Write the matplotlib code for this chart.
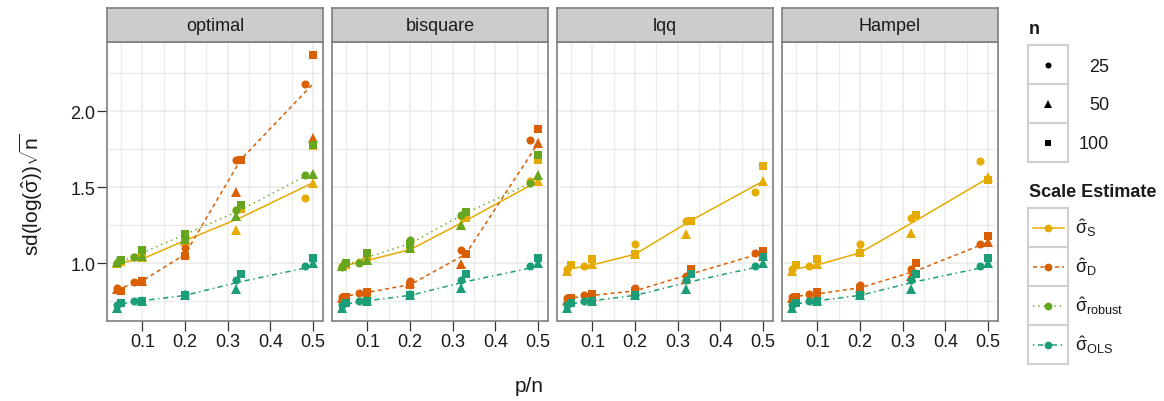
import matplotlib
matplotlib.use("Agg")
import matplotlib.pyplot as plt
from matplotlib.patches import Rectangle
import numpy as np

plt.rcParams["font.family"] = ["Liberation Sans", "DejaVu Sans"]
plt.rcParams["mathtext.fontset"] = "custom"
plt.rcParams["mathtext.rm"] = "Liberation Sans"
plt.rcParams["mathtext.it"] = "Liberation Sans"
plt.rcParams["mathtext.bf"] = "Liberation Sans:bold"

# ---- data -------------------------------------------------------------
panels = ["optimal", "bisquare", "lqq", "Hampel"]
estimators = ["S", "D", "robust", "OLS"]
est_labels = [r"$\hat{\sigma}_{\mathrm{S}}$", r"$\hat{\sigma}_{\mathrm{D}}$",
              r"$\hat{\sigma}_{\mathrm{robust}}$", r"$\hat{\sigma}_{\mathrm{OLS}}$"]
sizes_n = [25, 50, 100]

# p/n design points for each sample size
x_n25 = [0.04, 0.08, 0.2, 0.32, 0.48]
x_n50 = [0.04, 0.10, 0.2, 0.32, 0.50]
x_n100 = [0.05, 0.10, 0.2, 0.33, 0.50]
x_curve = [0.04, 0.10, 0.2, 0.33, 0.50]

# simulated sd(log(sigma_hat)) * sqrt(n): panel -> estimator -> (n25, n50, n100)
sim = {
    "optimal": {
        "S":      ([1.00, 1.04, 1.16, 1.35, 1.43], [1.00, 1.04, 1.15, 1.22, 1.53], [1.01, 1.07, 1.17, 1.36, 1.77]),
        "D":      ([0.84, 0.875, 1.10, 1.68, 2.18], [0.83, 0.885, 1.07, 1.47, 1.82], [0.82, 0.885, 1.05, 1.68, 2.37]),
        "robust": ([1.00, 1.04, 1.17, 1.35, 1.58], [1.01, 1.05, 1.16, 1.31, 1.59], [1.02, 1.09, 1.195, 1.38, 1.78]),
        "OLS":    ([0.73, 0.75, 0.80, 0.89, 0.98], [0.71, 0.75, 0.79, 0.83, 1.005], [0.74, 0.755, 0.79, 0.93, 1.035]),
    },
    "bisquare": {
        "S":      ([0.98, 1.01, 1.14, 1.31, 1.54], [0.98, 1.02, 1.10, 1.25, 1.54], [0.99, 1.04, 1.10, 1.30, 1.68]),
        "D":      ([0.78, 0.805, 0.885, 1.09, 1.81], [0.77, 0.80, 0.87, 0.995, 1.79], [0.78, 0.81, 0.86, 1.06, 1.88]),
        "robust": ([0.975, 1.005, 1.155, 1.32, 1.53], [0.98, 1.02, 1.10, 1.25, 1.58], [1.00, 1.065, 1.13, 1.34, 1.71]),
        "OLS":    ([0.73, 0.75, 0.80, 0.89, 0.98], [0.71, 0.75, 0.79, 0.84, 1.005], [0.74, 0.755, 0.79, 0.93, 1.035]),
    },
    "lqq": {
        "S":      ([0.96, 0.985, 1.125, 1.28, 1.47], [0.95, 0.995, 1.06, 1.19, 1.54], [0.99, 1.03, 1.06, 1.28, 1.64]),
        "D":      ([0.77, 0.79, 0.84, 0.92, 1.065], [0.76, 0.785, 0.82, 0.90, 1.05], [0.77, 0.80, 0.82, 0.965, 1.08]),
        "robust": None,
        "OLS":    ([0.73, 0.75, 0.79, 0.89, 0.98], [0.705, 0.75, 0.79, 0.835, 1.005], [0.74, 0.755, 0.79, 0.93, 1.04]),
    },
    "Hampel": {
        "S":      ([0.96, 0.985, 1.13, 1.295, 1.67], [0.95, 0.995, 1.08, 1.20, 1.565], [0.99, 1.03, 1.07, 1.315, 1.545]),
        "D":      ([0.78, 0.80, 0.855, 0.96, 1.13], [0.77, 0.80, 0.84, 0.92, 1.14], [0.78, 0.81, 0.84, 1.00, 1.18]),
        "robust": None,
        "OLS":    ([0.73, 0.75, 0.80, 0.89, 0.98], [0.71, 0.75, 0.79, 0.835, 1.005], [0.74, 0.755, 0.79, 0.93, 1.035]),
    },
}

# asymptotic curves at x_curve
curve = {
    "optimal":  {"S": [1.00, 1.03, 1.15, 1.30, 1.53], "D": [0.83, 0.885, 1.06, 1.68, 2.18],
                 "robust": [1.00, 1.07, 1.19, 1.35, 1.60], "OLS": [0.73, 0.755, 0.79, 0.88, 0.98]},
    "bisquare": {"S": [0.98, 1.02, 1.09, 1.28, 1.54], "D": [0.78, 0.81, 0.86, 1.06, 1.79],
                 "robust": [0.98, 1.04, 1.13, 1.33, 1.55], "OLS": [0.73, 0.755, 0.79, 0.88, 0.98]},
    "lqq":      {"S": [0.96, 0.99, 1.06, 1.28, 1.54], "D": [0.77, 0.79, 0.82, 0.93, 1.07],
                 "robust": None, "OLS": [0.73, 0.755, 0.79, 0.88, 0.985]},
    "Hampel":   {"S": [0.96, 0.99, 1.07, 1.28, 1.56], "D": [0.78, 0.80, 0.84, 0.95, 1.14],
                 "robust": None, "OLS": [0.73, 0.755, 0.79, 0.88, 0.98]},
}

x_ticks = [0.1, 0.2, 0.3, 0.4, 0.5]
x_minor = [0.05, 0.15, 0.25, 0.35, 0.45]
y_ticks = [1.0, 1.5, 2.0]
y_minor = [0.75, 1.25, 1.75, 2.25]

# ---- styling ----------------------------------------------------------
colors = {"S": "#E6AB02", "D": "#D95F02", "robust": "#66A61E", "OLS": "#1B9E77"}
lstyles = {"S": "-", "D": (0, (2.6, 2.2)), "robust": (0, (0.9, 2.6)),
           "OLS": (0, (0.9, 2.4, 3.4, 2.4))}
markers = {25: ("o", 5.8), 50: ("^", 6.8), 100: ("s", 6.0)}
xs_by_n = {25: x_n25, 50: x_n50, 100: x_n100}

W, H = 1164, 402
fig = plt.figure(figsize=(W / 100, H / 100), dpi=100)


def px_axes(x0, y0, x1, y1):
    return fig.add_axes([x0 / W, 1 - y1 / H, (x1 - x0) / W, (y1 - y0) / H])


# shared limits with 5% padding
all_y = [v for p in panels for e in estimators if sim[p][e] for s in sim[p][e] for v in s]
all_x = x_n25 + x_n50 + x_n100
ylo, yhi = min(all_y), max(all_y)
xlo, xhi = min(all_x), max(all_x)
ypad, xpad = 0.05 * (yhi - ylo), 0.05 * (xhi - xlo)

border = "#7F7F7F"
text_col = "#1a1a1a"
left0, step, pw = 107, 225, 216
top, bottom, strip_top = 43, 322, 9

for i, name in enumerate(panels):
    x0 = left0 + i * step
    ax = px_axes(x0, top, x0 + pw, bottom)
    ax.set_xlim(xlo - xpad, xhi + xpad)
    ax.set_ylim(ylo - ypad, yhi + ypad)
    ax.set_xticks(x_ticks)
    ax.set_xticks(x_minor, minor=True)
    ax.set_yticks(y_ticks)
    ax.set_yticks(y_minor, minor=True)
    ax.set_xticklabels([f"{t:.1f}" for t in x_ticks])
    ax.grid(which="major", color="#EBEBEB", linewidth=1.1)
    ax.grid(which="minor", color="#EBEBEB", linewidth=0.9)
    ax.set_axisbelow(True)
    ax.tick_params(which="minor", length=0)
    ax.tick_params(which="major", length=7, width=0.9, color="#333333",
                   labelsize=13, labelcolor=text_col, pad=1.5)
    if i == 0:
        ax.set_yticklabels([f"{t:.1f}" for t in y_ticks])
    else:
        ax.tick_params(axis="y", length=0, labelleft=False)
    for sp in ax.spines.values():
        sp.set_color(border)
        sp.set_linewidth(1.2)

    for e in estimators:
        if curve[name][e] is None:
            continue
        ax.plot(x_curve, curve[name][e], color=colors[e], linestyle=lstyles[e],
                linewidth=1.1, zorder=2)
    for e in estimators:
        if sim[name][e] is None:
            continue
        for n, vals in zip(sizes_n, sim[name][e]):
            m, ms = markers[n]
            ax.plot(xs_by_n[n], vals, linestyle="none", marker=m, markersize=ms,
                    color=colors[e], markeredgewidth=0, zorder=3)

    sax = px_axes(x0, strip_top, x0 + pw, top)
    sax.set_facecolor("#CCCCCC")
    sax.set_xticks([])
    sax.set_yticks([])
    for sp in sax.spines.values():
        sp.set_color(border)
        sp.set_linewidth(1.2)
    sax.text(0.5, 0.48, name, ha="center", va="center", fontsize=13, color=text_col,
             transform=sax.transAxes)

# axis titles
fig.text(529 / W, 1 - 387 / H, "p/n", ha="center", va="center", fontsize=15, color=text_col)
fig.text(31 / W, 1 - 195 / H, r"sd(log($\hat{\sigma}$))$\sqrt{\mathrm{n}}$", ha="center",
         va="center", rotation=90, fontsize=15, color=text_col)

# ---- legends ----------------------------------------------------------
lg = fig.add_axes([0, 0, 1, 1], facecolor="none")
lg.set_xlim(0, W)
lg.set_ylim(H, 0)
lg.axis("off")

lg.text(1029, 29, "n", fontsize=13, fontweight="bold", ha="left", va="center", color=text_col)
kx0, kx1 = 1028, 1068
n_rows = [46, 85, 124, 163]
for j, n in enumerate(sizes_n):
    y0, y1 = n_rows[j], n_rows[j + 1]
    lg.add_patch(Rectangle((kx0, y0), kx1 - kx0, y1 - y0, facecolor="white",
                           edgecolor="#D0D0D0", linewidth=1.5))
    m, ms = markers[n]
    lg.plot([(kx0 + kx1) / 2], [(y0 + y1) / 2], marker=m, markersize=ms * 0.75,
            color="black", markeredgewidth=0)
    lg.text(1109, (y0 + y1) / 2 + 1.5, str(n), fontsize=13, ha="right", va="center",
            color=text_col)

lg.text(1029, 193, "Scale Estimate", fontsize=13, fontweight="bold", ha="left", va="center",
        color=text_col)
e_rows = [209, 248, 287, 326, 365]
for j, e in enumerate(estimators):
    y0, y1 = e_rows[j], e_rows[j + 1]
    yc = (y0 + y1) / 2
    lg.add_patch(Rectangle((kx0, y0), kx1 - kx0, y1 - y0, facecolor="white",
                           edgecolor="#D0D0D0", linewidth=1.5))
    lg.plot([kx0 + 5, kx1 - 4], [yc, yc], color=colors[e], linestyle=lstyles[e], linewidth=1.1)
    lg.plot([(kx0 + kx1) / 2], [yc], marker="o", markersize=5.6, color=colors[e],
            markeredgewidth=0)
    lg.text(1075, yc, est_labels[j], fontsize=13, ha="left", va="center", color=text_col)

fig.savefig("out.png", dpi=100)
